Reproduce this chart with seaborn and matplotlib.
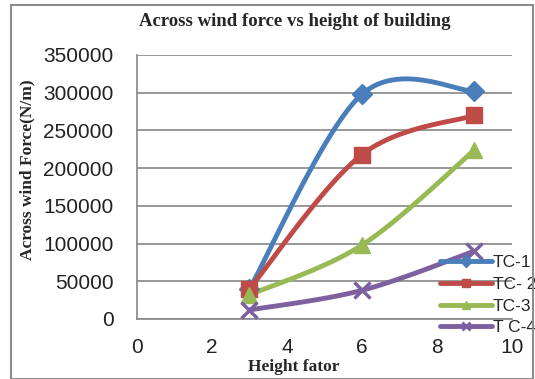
import numpy as np
import pandas as pd
import seaborn as sns
import matplotlib
matplotlib.use("Agg")
import matplotlib.pyplot as plt
from matplotlib.lines import Line2D
from matplotlib.patches import Rectangle

#========================= Data ===============================================
height = [3, 6, 9]
tc1 = [40000, 298000, 302000]
tc2 = [40000, 218000, 270000]
tc3 = [32000, 98000, 224000]
tc4 = [12000, 38000, 90000]
series = ['TC-1', 'TC- 2', 'TC-3', 'T C-4']
colors = ['#4A7EBB', '#BE4B48', '#98B954', '#7D60A0']
markers = ['D', 's', '^', 'x']
msizes = [10, 12, 12, 12]

# Excel style smoothed line (Catmull-Rom through the points)
def smooth(x, y, n=40):
    x = np.asarray(x, float); y = np.asarray(y, float)
    px = np.concatenate([[x[0]], x, [x[-1]]])
    py = np.concatenate([[y[0]], y, [y[-1]]])
    xs, ys = [], []
    t = np.linspace(0, 1, n)
    for i in range(1, len(px) - 2):
        for p, out in ((px, xs), (py, ys)):
            p0, p1, p2, p3 = p[i-1], p[i], p[i+1], p[i+2]
            m1 = (p2 - p0) / 2.0
            m2 = (p3 - p1) / 2.0
            h00 = 2*t**3 - 3*t**2 + 1
            h10 = t**3 - 2*t**2 + t
            h01 = -2*t**3 + 3*t**2
            h11 = t**3 - t**2
            out.extend(h00*p1 + h10*m1 + h01*p2 + h11*m2)
    return np.array(xs), np.array(ys)

rows = []
pts = []
for name, vals in zip(series, [tc1, tc2, tc3, tc4]):
    sx, sy = smooth(height, vals)
    for a, b in zip(sx, sy):
        rows.append((name, a, b))
    for a, b in zip(height, vals):
        pts.append((name, a, b))
curve = pd.DataFrame(rows, columns=['case', 'x', 'y'])
points = pd.DataFrame(pts, columns=['case', 'x', 'y'])

#========================= Plot ===============================================
sns.set_style('white')
plt.rcParams['font.family'] = ['Liberation Sans', 'DejaVu Sans']

fig = plt.figure(figsize=(5.35, 3.79), dpi=100)
ax = fig.add_axes([137/535, 1 - 319/379, 375/535, 264/379])

sns.lineplot(data=curve, x='x', y='y', hue='case', palette=colors,
             linewidth=3.5, sort=False, estimator=None, legend=False, ax=ax)
for name, c, m, s in zip(series, colors, markers, msizes):
    d = points[points.case == name]
    ax.plot(d.x, d.y, linestyle='none', marker=m, color=c, markersize=s,
            markeredgewidth=2.5 if m == 'x' else 1, zorder=3)

ax.set_xlim(0, 10)
ax.set_ylim(0, 350000)
ax.set_xticks(range(0, 11, 2))
ax.set_yticks(range(0, 350001, 50000))
ax.yaxis.grid(True, color='#868686', linewidth=1.2)
ax.set_axisbelow(True)
for side in ['top', 'right']:
    ax.spines[side].set_visible(False)
for side in ['left', 'bottom']:
    ax.spines[side].set_color('#868686')
    ax.spines[side].set_linewidth(1.2)
ax.tick_params(axis='both', length=0, labelsize=15, colors='#222222')
ax.tick_params(axis='y', pad=17)
ax.tick_params(axis='x', pad=14)

fig.text(295/535, 1 - 21/379, 'Across wind force vs height of building',
         family='Liberation Serif', fontweight='bold', fontsize=13.5,
         ha='center', va='center')
ax.set_xlabel('Height fator', family='Liberation Serif', fontweight='bold',
              fontsize=12.5)
ax.xaxis.set_label_coords((294 - 137) / 375, -(367 - 319) / 264)
ax.xaxis.label.set_va('center')
ax.set_ylabel('Across wind Force(N/m)', family='Liberation Serif',
              fontweight='bold', fontsize=12.5)
ax.yaxis.set_label_coords(-(137 - 27) / 375, (319 - 170) / 264)
ax.yaxis.label.set_va('center')

handles = [Line2D([0], [0], color=c, marker=m, linewidth=3.5, markersize=6,
                  markeredgewidth=2 if m == 'x' else 1)
           for c, m in zip(colors, markers)]
leg = ax.legend(handles, series, loc='upper left', bbox_to_anchor=(440/535, 1 - 255/379),
                bbox_transform=fig.transFigure, frameon=False, fontsize=12.5,
                handlelength=3.0, handletextpad=0.05, labelspacing=0.38,
                borderpad=0, borderaxespad=0)

fig.patches.append(Rectangle((11/535, 0), 522/535, 1 - 5/379, transform=fig.transFigure,
                             fill=False, edgecolor='#8C8C8C', linewidth=1.5))

fig.savefig('out.png', dpi=100)
